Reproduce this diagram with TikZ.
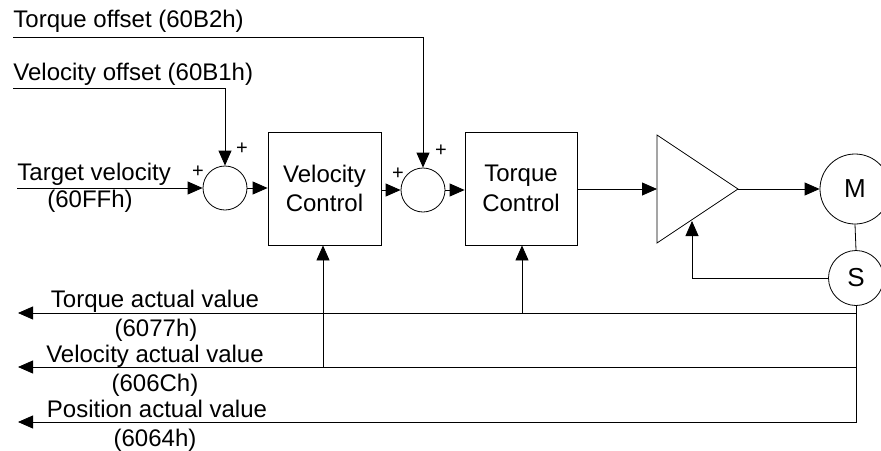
\documentclass[tikz,border=0pt]{standalone}
\usepackage{fontspec}
\setmainfont{Liberation Sans}
\usetikzlibrary{arrows.meta}
\begin{document}
\begin{tikzpicture}[x=1pt,y=-1pt, line width=0.8pt,
  lbl/.style={font=\fontsize{24}{28}\selectfont, inner sep=0pt},
  blk/.style={draw, minimum width=113pt, minimum height=113pt, align=center,
    font=\fontsize{24}{29.5}\selectfont, inner sep=0pt},
  sumnode/.style={draw, circle, minimum size=44pt, inner sep=0pt},
  motor/.style={draw, circle, inner sep=0pt, font=\fontsize{26}{28}\selectfont},
  pls/.style={font=\fontsize{20}{20}\selectfont, inner sep=0pt},
  arr/.style={-{Triangle[length=15pt,width=13pt]}},
]
\useasboundingbox (0,0) rectangle (881,450);

% blocks
\node[sumnode] (s1) at (225,188) {};
\node[sumnode] (s2) at (423,190) {};
\node[blk] (vc) at (324.5,188.5) {Velocity\\Control};
\node[blk, minimum width=112pt] (tc) at (521,188.5) {Torque\\Control};
\coordinate (a1) at (657,135);
\coordinate (a2) at (657,243);
\coordinate (a3) at (738,189);
\coordinate (ain) at (657,189);
\draw (a1) -- (a3) -- (a2) -- cycle;
\node[motor, minimum size=70pt] (M) at (855,189) {M};
\node[motor, minimum size=55pt] (S) at (856,278) {S};

% plus signs
\node[pls] (p1) at (198,172) {+};
\node[pls] (p2) at (242,149) {+};
\node[pls] (p3) at (398,174) {+};
\node[pls] (p4) at (441,151) {+};

% input labels
\node[lbl, anchor=base west] (tto) at (13,27) {Torque offset (60B2h)};
\node[lbl, anchor=base west] (tvo) at (13,80) {Velocity offset (60B1h)};
\node[lbl, anchor=base west] (ttv) at (17,180) {Target velocity};
\node[lbl, anchor=base] (ttv2) at (90,207) {(60FFh)};

% forward path
\coordinate (to0) at (13,37);
\coordinate (to1) at (423,37);
\draw[arr] (to0) -- (to1) -- (s2.north);
\coordinate (vo0) at (13,88);
\coordinate (vo1) at (225,88);
\draw[arr] (vo0) -- (vo1) -- (s1.north);
\coordinate (tv0) at (17,188);
\draw[arr] (tv0) -- (s1.west);
\draw[arr] (s1.east) -- (vc.west |- s1.east);
\draw[arr] (vc.east |- s2.west) -- (s2.west);
\draw[arr] (s2.east) -- (tc.west |- s2.east);
\draw[arr] (tc.east |- ain) -- (ain);
\draw[arr] (a3) -- (M.west);
\draw (M.south) -- (S.north);
\coordinate (fb) at (692,278);
\coordinate (fbt) at (692,221);
\draw[arr] (S.west) -- (fb) -- (fbt);

% feedback
\coordinate (jT) at (856,313);
\coordinate (jV) at (856,367);
\coordinate (jP) at (856,422);
\coordinate (lT) at (18,313);
\coordinate (lV) at (18,367);
\coordinate (lP) at (18,422);
\draw[arr] (S.south) -- (jP) -- (lP);
\draw[arr] (jT) -- (lT);
\draw[arr] (jV) -- (lV);
\coordinate (tT) at (522,313);
\draw[arr] (tT) -- (tT |- tc.south);
\coordinate (vV) at (323,367);
\draw[arr] (vV) -- (vV |- vc.south);

% feedback labels
\node[lbl, anchor=base] (f1) at (155,307) {Torque actual value};
\node[lbl, anchor=base] (f2) at (156,336) {(6077h)};
\node[lbl, anchor=base] (f3) at (155,362) {Velocity actual value};
\node[lbl, anchor=base] (f4) at (155,391) {(606Ch)};
\node[lbl, anchor=base] (f5) at (157,417) {Position actual value};
\node[lbl, anchor=base] (f6) at (155,446) {(6064h)};
\end{tikzpicture}
\end{document}
